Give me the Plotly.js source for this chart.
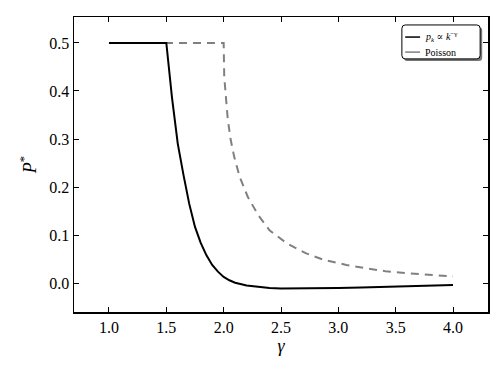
<html lang="en">
  <head>
    <meta charset="UTF-8" />
    <title>P* vs gamma</title>
    <script src="https://cdn.plot.ly/plotly-3.0.1.min.js"></script>
    <style>
      body { margin: 0; background: #fff; }
    </style>
  </head>
  <body>
    <div id="chart" style="width:498px; height:374px;"></div>
    <script>
      // power-law degree distribution curve
      const gammaPow = [1.0, 1.5, 1.55, 1.6, 1.65, 1.7, 1.75, 1.8, 1.85, 1.9, 1.95, 2.0, 2.05, 2.1, 2.2, 2.3, 2.4, 2.5, 2.6, 2.8, 3.0, 3.2, 3.5, 3.8, 4.0];
      const pPow = [0.5, 0.5, 0.385, 0.29, 0.225, 0.165, 0.117, 0.084, 0.058, 0.038, 0.024, 0.013, 0.006, 0.001, -0.005, -0.008, -0.010, -0.011, -0.011, -0.011, -0.010, -0.009, -0.007, -0.005, -0.004];

      // Poisson curve
      const gammaPois = [1.0, 2.0, 2.005, 2.02, 2.035, 2.06, 2.09, 2.14, 2.21, 2.3, 2.4, 2.55, 2.72, 2.88, 3.07, 3.24, 3.41, 3.59, 3.76, 3.94, 4.0];
      const pPois = [0.5, 0.5, 0.43, 0.385, 0.343, 0.3, 0.265, 0.221, 0.18, 0.142, 0.11, 0.083, 0.062, 0.048, 0.038, 0.031, 0.025, 0.021, 0.018, 0.015, 0.014];

      const xTicks = [1.0, 1.5, 2.0, 2.5, 3.0, 3.5, 4.0];
      const yTicks = [0.0, 0.1, 0.2, 0.3, 0.4, 0.5];

      const legendNames = ['<i>p<sub>k</sub></i> \u221d <i>k</i><sup>\u2212\u03b3</sup>', 'Poisson'];
      const colors = ['#000000', '#808080'];

      const serif = 'Liberation Serif, DejaVu Serif, serif';

      // Poisson drawn first so the solid curve sits on top where they overlap
      const traces = [
        {
          x: gammaPois, y: pPois, type: 'scatter', mode: 'lines',
          name: legendNames[1],
          line: { color: colors[1], width: 2, dash: '8px,6px' }
        },
        {
          x: gammaPow, y: pPow, type: 'scatter', mode: 'lines',
          name: legendNames[0],
          line: { color: colors[0], width: 2 }
        }
      ];

      const axisStyle = {
        showline: true, linecolor: '#000', linewidth: 1.5, mirror: 'ticks',
        ticks: 'inside', ticklen: 5, tickcolor: '#000', tickwidth: 1,
        showgrid: false, zeroline: false,
        tickfont: { family: serif, size: 16, color: '#000' }
      };

      // rounded rectangle in paper coords
      function roundRect(x0, y0, x1, y1, rx, ry) {
        return 'M' + (x0 + rx) + ',' + y1 +
          ' L' + (x1 - rx) + ',' + y1 + ' Q' + x1 + ',' + y1 + ' ' + x1 + ',' + (y1 - ry) +
          ' L' + x1 + ',' + (y0 + ry) + ' Q' + x1 + ',' + y0 + ' ' + (x1 - rx) + ',' + y0 +
          ' L' + (x0 + rx) + ',' + y0 + ' Q' + x0 + ',' + y0 + ' ' + x0 + ',' + (y0 + ry) +
          ' L' + x0 + ',' + (y1 - ry) + ' Q' + x0 + ',' + y1 + ' ' + (x0 + rx) + ',' + y1 + ' Z';
      }

      const box = { x0: 0.792, x1: 0.981, y0: 0.858, y1: 0.973 };
      const rowY = [0.932, 0.881];

      const shapes = [
        { type: 'path', xref: 'paper', yref: 'paper', layer: 'above',
          path: roundRect(box.x0 + 0.005, box.y0 - 0.007, box.x1 + 0.005, box.y1 - 0.007, 0.008, 0.012),
          fillcolor: '#777', line: { width: 0 } },
        { type: 'path', xref: 'paper', yref: 'paper', layer: 'above',
          path: roundRect(box.x0, box.y0, box.x1, box.y1, 0.008, 0.012),
          fillcolor: '#fff', line: { color: '#000', width: 1 } }
      ];
      const annotations = [];
      legendNames.forEach(function (name, i) {
        shapes.push({ type: 'line', xref: 'paper', yref: 'paper', layer: 'above',
          x0: 0.800, x1: 0.836, y0: rowY[i], y1: rowY[i],
          line: { color: colors[i], width: 1.5 } });
        annotations.push({ xref: 'paper', yref: 'paper', x: 0.843, y: rowY[i],
          xanchor: 'left', yanchor: 'middle', showarrow: false, text: name,
          font: { family: serif, size: 10, color: '#000' } });
      });

      const layout = {
        width: 498, height: 374,
        margin: { l: 74, r: 10, t: 17, b: 62 },
        paper_bgcolor: '#fff', plot_bgcolor: '#fff',
        showlegend: false,
        xaxis: Object.assign({}, axisStyle, {
          range: [0.695, 4.305], tickvals: xTicks, tickformat: '.1f',
          title: { text: '<i>\u03b3</i>', font: { family: serif, size: 18, color: '#000' }, standoff: 0 }
        }),
        yaxis: Object.assign({}, axisStyle, {
          range: [-0.06, 0.554], tickvals: yTicks, tickformat: '.1f',
          title: { text: '<i>P</i><sup>*</sup>', font: { family: serif, size: 18, color: '#000' }, standoff: 8 }
        }),
        shapes: shapes,
        annotations: annotations
      };

      Plotly.newPlot('chart', traces, layout, { staticPlot: true, displayModeBar: false });
    </script>
  </body>
</html>
